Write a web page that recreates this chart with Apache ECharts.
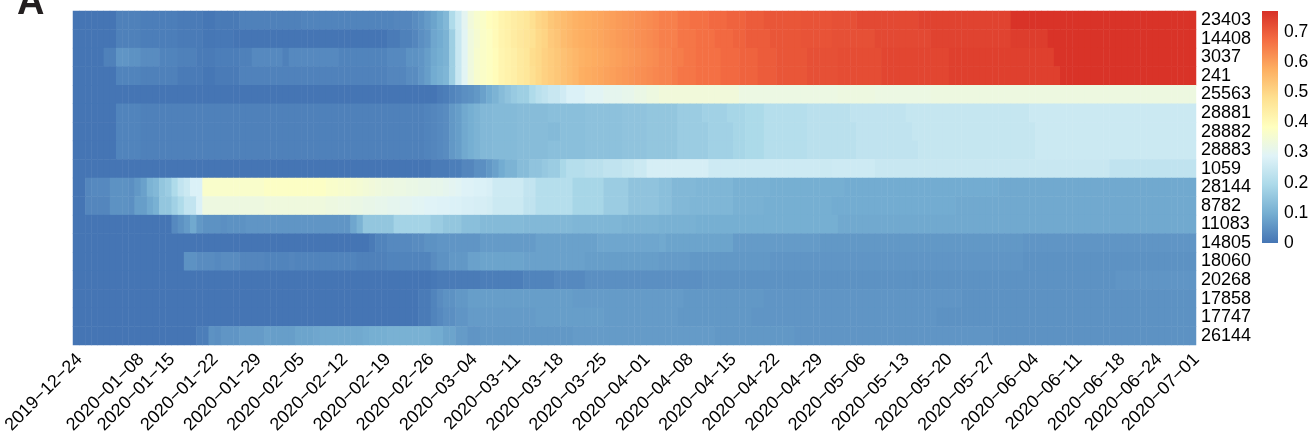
<!DOCTYPE html>
<html>
<head>
<meta charset="utf-8">
<script src="https://cdn.jsdelivr.net/npm/echarts@6/dist/echarts.min.js"></script>
<style>
html, body { margin: 0; padding: 0; background: #fff; }
#chart { width: 1310px; height: 438px; }
</style>
</head>
<body>
<div id="chart"></div>
<script>
// Genome positions, one heatmap row each, top to bottom
const positions = ['23403', '14408', '3037', '241', '25563', '28881', '28882', '28883', '1059',
  '28144', '8782', '11083', '14805', '18060', '20268', '17858', '17747', '26144'];

// Columns that carry a date label, and those labels
const tickColumns = [0, 10, 15, 22, 29, 36, 43, 50, 57, 64, 71, 78, 85, 92, 99, 106, 113, 120, 127,
  134, 141, 148, 155, 162, 169, 175, 181];
const tickLabels = ['2019−12−24', '2020−01−08', '2020−01−15', '2020−01−22', '2020−01−29', '2020−02−05',
  '2020−02−12', '2020−02−19', '2020−02−26', '2020−03−04', '2020−03−11', '2020−03−18', '2020−03−25',
  '2020−04−01', '2020−04−08', '2020−04−15', '2020−04−22', '2020−04−29', '2020−05−06', '2020−05−13',
  '2020−05−20', '2020−05−27', '2020−06−04', '2020−06−11', '2020−06−18', '2020−06−24', '2020−07−01'];

// Mutation frequency per column, in percent
const freq23403 = [
0,0,0,0,0,0,0,2,2,2,
2,1.5,1.5,1.5,1.5,1.5,1.5,1,1,1,
1,0.3,0.3,1,0.8,0.8,0.8,2,2,2,
2,2,2,2,2,2,2,2.5,2.5,2.5,
2.5,2.5,2.5,2.5,2.5,2.5,2.5,2.5,2.5,2.5,
2.5,2.5,3,3,3,4,5,6.5,8,10,
12,20,25,30,34,36,37,39,40,42,
43,44,45,46,48,50,51,53,54,55,
56,57,57.5,58,58.5,59,59.5,60,60.5,61,
61.5,62,62.5,63,63.5,64.5,64.5,64.5,66,66,
67,67,67,68,68,68,69,69,69,70,
70,70,71,71,71,71,71,71,71.5,71.5,
71.5,71.5,71.5,72,72,72,72,73,73,73,
73,73,73,73,73,73,73,74,74,74,
74,74,74,74,74,74,74,74,74,74,
74,74,76.5,76.5,76.5,76.5,76.5,76.5,76.5,76.5,
76.5,76.5,76.5,76.5,76.5,76.5,76.5,76.5,76.5,76.5,
76.5,76.5,76.5,76.5,76.5,76.5,76.5,76.5,76.5,76.5,
76.5,76.5];

const freq14408 = [
0,0,0,0,0,0,0,2,2,2,
2,1.5,1.5,1.5,1.5,1.5,1.5,1,1,1,
1,0.3,0.3,0.5,0.5,0.5,0,0,0,0,
0,0,0,0,0,0,0,0,0,0,
0,0,0,0,0,0,0,0,0,0,
0,1,1,2,2,3,4.5,5.5,8.5,9.5,
11,17,24.5,29.5,33.5,35.5,37,38,40,42,
43,44.5,45.5,46.5,47.5,49.5,50.5,52.5,53.5,55,
56,57,57.5,58,58.5,59,59.5,60,60.5,61,
61.5,62,62.5,63,63.5,64.5,64.5,64.5,66,66,
66,67,67,67,68,68,68,69,69,70,
70,70,70,71,71,71,71,71,71.5,71.5,
71.5,71.5,71.5,72,72,72,72,72,72,72,
73,73,73,73,73,73,73,73,73,74,
74,74,74,74,74,74,74,74,74,74,
74,74,75,75,75,75,75,75,76.5,76.5,
76.5,76.5,76.5,76.5,76.5,76.5,76.5,76.5,76.5,76.5,
76.5,76.5,76.5,76.5,76.5,76.5,76.5,76.5,76.5,76.5,
76.5,76.5];

const freq3037 = [
0,0,0,0,0,2,2,5.5,5.5,5,
5,4,4,4,2.5,2.5,2.5,2,2,2,
1,1,1,1.5,1.5,1.5,1.5,2,2,3.5,
3.5,3.5,3.5,3.5,2,3.5,3.5,3.5,3.5,3.5,
3.5,3.5,3.5,2.5,2.5,2.5,2.5,2.5,2.5,2.5,
2.5,3.5,3.5,3.5,5,5,5.5,7,9,10,
11,17,24.5,29.5,33.5,36,37,38,39.5,41.5,
42.5,43.5,45,46,48.5,49.5,51,52,53,54,
55,56,57,57.5,58,58.5,59,59.5,60,60.5,
61,61.5,62,62.5,63,64,64,65,65,66,
66,67,67,67,67,68,68,68,69,69,
69,70,70,70,71,71,71,71,71,72,
72,72,72,72,72.5,72.5,72.5,72.5,72.5,72.5,
72.5,73.5,73.5,73.5,73.5,73.5,73.5,73.5,73.5,73.5,
73.5,73.5,74.5,74.5,74.5,74.5,74.5,74.5,74.5,74.5,
74.5,74.5,74.5,74.5,74.5,74.5,74.5,74.5,74.5,76.5,
76.5,76.5,76.5,76.5,76.5,76.5,76.5,76.5,76.5,76.5,
76.5,76.5,76.5,76.5,76.5,76.5,76.5,76.5,76.5,76.5,
76.5,76.5];

const freq241 = [
0,0,0,0,0,0,0,2.5,2.5,2.5,
2.5,2,2,2,2,2,2,1,1,1,
1,0.3,0.3,1,1,1,1,2.3,2.3,2.3,
2.3,2.3,2.3,2.3,2.3,2.3,2.3,2.3,2.3,2.3,
2.3,2.3,2.3,2.3,2.3,2.3,2.3,2.3,2.3,2.3,
2.3,3,3,3,4,4,5.5,7,9.5,10.5,
11.5,17,24.5,29.5,33.5,36,37,38,39.5,41.5,
42.5,43.5,45,46,48,49.5,51,52,53,54,
55,56,57.5,58,58.5,59,59.5,60,60.5,61,
61.5,62,62.5,63,63.5,64,64,65,66,66,
66,67,67,67,67,68,68,68,69,69,
69,70,70,70,71,71,71,71,71,72,
72,72,72,72,72.5,72.5,72.5,72.5,72.5,72.5,
72.5,73.5,73.5,73.5,73.5,73.5,73.5,73.5,73.5,73.5,
73.5,73.5,74.5,74.5,74.5,74.5,74.5,74.5,74.5,74.5,
74.5,74.5,74.5,74.5,74.5,74.5,74.5,74.5,74.5,74.5,
76.5,76.5,76.5,76.5,76.5,76.5,76.5,76.5,76.5,76.5,
76.5,76.5,76.5,76.5,76.5,76.5,76.5,76.5,76.5,76.5,
76.5,76.5];

const freq25563 = [
0,0,0,0,0,0,0,0,0,0,
0,0,0,0,0,0,0,0,0,0,
0,0,0,0,0,0,0,0,0,0,
0,0,0,0,0,0,0,0,0,0,
0,0,0,0,0,0,0,0,0,0,
0,0,0,0,0,0,0,0,0,1,
1.5,2.5,3.5,4.5,5,6,7.5,9.5,11,13,
14.5,16,17,17,20,22,23,24.5,24.5,26,
28,28,28,29.5,29.5,29.5,30.5,30.5,30.5,31,
31,32,32,33,33,34,34,34,34,34,
34,34,34,34,34,34,34,34,32.5,32.5,
32.5,32.5,32.5,32.5,32.5,32.5,32.5,32.5,32.5,32.5,
32.5,32.5,32.5,32.5,33,33,33,33,33,33,
32.5,32.5,32.5,32.5,32.5,32.5,32.5,32.5,32.5,33,
33,33,33,33,33,33,33,33,33,33,
33,33,33,33,33,33,33,33,33,33,
33,33,33,33,33,33,33,33,33,33,
33,33,33,33,33,33,33,33,33,33,
33,33];

const freq28881 = [
0,0,0,0,0,0,0,2.5,2.5,2.5,
2.5,2,2,2,2,2,2,2,2,2,
2,2,2,2,2,2,2,2,2,2,
2,2,2,2,2,2,2,2,2,2,
2,2,2,2,2,2,2,2,2,2,
2,2,2,2,2,2,2,2.5,3,3.5,
4,6,7,9,10,11,12,12,12.5,12.5,
12.5,12.5,13,13,13,13,13,13.5,13.5,13.5,
13.5,13.5,13.5,14,14,14,14,14,14,14.5,
14.5,14.5,14.5,15,15,15,15,15,16.5,16.5,
16.5,16.5,17.5,17.5,17.5,17.5,18.5,18.5,18.5,19.5,
19.5,19.5,21,21,21,21,21,21,21,22,
22,22,22,22,22,22,23,23,23,23,
23,23,23,23,23,24,24,24,24,24,
24,24,24,24,24,24,24,24,24,24,
24,24,24,24,24,25,25,25,25,25,
25,25,25,25,25,25,25,25,25,25,
25,25,25,25,25,25,25,25,25,25,
25,25];

const freq28882 = [
0,0,0,0,0,0,0,2.5,2.5,2.5,
2.5,2,2,2,2,2,2,2,2,2,
2,2,2,2,2,2,2,2,2,2,
2,2,2,2,2,2,2,2,2,2,
2,2,2,2,2,2,2,2,2,2,
2,2,2,2,2,2,2,2.5,3,3.5,
4,6,7,9,10,11,12,12,12.5,12.5,
12.5,12.5,13,13,13,13,13,12.5,12.5,13.5,
13.5,13.5,13.5,14,14,14,14,14,14,14.5,
14.5,14.5,14.5,15,15,15,15,15,16.5,16.5,
16.5,16.5,16.5,17.5,17.5,17.5,17.5,18.5,18.5,19.5,
19.5,19.5,21,21,21,21,21,21,21,22,
22,22,22,22,22,22,22,23,23,23,
23,23,23,23,23,23,24,24,24,24,
24,24,24,24,24,24,24,24,24,24,
24,24,24,24,24,24,25,25,25,25,
25,25,25,25,25,25,25,25,25,25,
25,25,25,25,25,25,25,25,25,25,
25,25];

const freq28883 = [
0,0,0,0,0,0,0,2.5,2.5,2.5,
2.5,2,2,2,2,2,2,2,2,2,
2,2,2,2,2,2,2,2,2,2,
2,2,2,2,2,2,2,2,2,2,
2,2,2,2,2,2,2,2,2,2,
2,2,2,2,2,2,2,2.5,3,3.5,
4,6,7,9,10,11,12,12,12.5,12.5,
12.5,12.5,13,13,13,13,13,13.5,13.5,13.5,
13.5,13.5,13.5,14,14,14,14,14,14,14.5,
14.5,14.5,14.5,15,15,15,15,15,16.5,16.5,
16.5,16.5,16.5,17.5,17.5,17.5,17.5,18.5,18.5,19.5,
19.5,19.5,21,21,21,21,21,21,21,22,
22,22,22,22,22,22,22,23,23,23,
23,23,23,23,23,23,23,24,24,24,
24,24,24,24,24,24,24,24,24,24,
24,24,24,24,24,24,25,25,25,25,
25,25,25,25,25,25,25,25,25,25,
25,25,25,25,25,25,25,25,25,25,
25,25];

const freq1059 = [
0,0,0,0,0,0,0,0,0,0,
0,0,0,0,0,0,0,0,0,0,
0,0,0,0,0,0,0,0,0,0,
0,0,0,0,0,0,0,0,0,0,
0,0,0,0,0,0,0,0,0,0,
0,0,0,0,0,0,0,0,1,1,
1,1.5,1.5,3,3,4.5,4.5,6,7.5,9.5,
11,11,13,13,14.5,14.5,15.5,16.5,16.5,19,
21,21,21,22,22,22,23,23,23,24,
24,25,25,27,27,27,27,27,27,27,
27,27,27,25.5,25.5,25.5,25.5,25.5,25.5,25.5,
25.5,25.5,25.5,25.5,25.5,25.5,25.5,25.5,25.5,25.5,
25.5,25,25,25.5,25.5,25.5,25.5,25.5,25.5,25.5,
24.5,24.5,24.5,24.5,24.5,24.5,24.5,24.5,24.5,24.5,
24.5,24.5,24.5,24.5,24.5,24.5,24.5,24.5,24.5,24.5,
24.5,24.5,24.5,24.5,24.5,24.5,24.5,24.5,24.5,24.5,
24.5,24.5,24.5,24.5,24.5,24.5,24.5,24.5,23,23,
23,23,23,23,23,23,23,23,23,23,
23,23];

const freq28144 = [
0,0,3,3.5,3.5,3.5,5,5,5,4.5,
6,7.5,11,12,15,16.5,20,23.5,25,28,
28,36.5,36.5,36.5,36.5,36.5,36.5,36.5,36.5,36.5,
36.5,37.5,37.5,37.5,37.5,37.5,37.5,37.5,37.5,37.5,
37.5,36.5,36.5,36,36,35.5,35,34.5,34,33.5,
33,33,32.5,32.5,32,32,31.5,31.5,31,31,
30.5,30,29.5,28.5,28.5,28,28,27.5,25.5,25.5,
25.5,25.5,25.5,23.5,23.5,21,21,21,21,21,
21,18.5,18.5,18.5,18.5,18.5,16.5,16.5,16.5,16.5,
14.5,14.5,14.5,14.5,14.5,13.5,13.5,12,12,12,
12,11.5,11.5,11.5,11.5,11.5,11.5,10.5,10.5,10.5,
10.5,10.5,10.5,10,10,10,10,10,10,10,
10,10,10,10,10,9.5,9.5,9.5,9.5,9.5,
9.5,9.5,9.5,9.5,9.5,9.5,9.5,9.5,9.5,9.5,
9.5,9.5,9.5,9.5,9.5,9.5,9.5,9.5,9.5,9.5,
9,9,9,9,9,9,9,9,9,9,
9,9,9,9,9,9,9,9,9,9,
9,9,9,9,9,9,9,9,9,9,
9,9];

const freq8782 = [
0,0,3,3,3,3,5,5,5,4.5,
7,7,9,10.5,15,15,17.5,20,23.5,23.5,
28,33,33,33,33,33,33,33,33,33,
33,33.5,33.5,33.5,33.5,33.5,33.5,33.5,33.5,33.5,
33.5,33,33,32.5,32.5,32,32,31.5,31.5,31,
31,30.5,30.5,30,30,29.5,29.5,29,29,28.5,
28.5,28,28,27.5,27.5,27,27,26.5,25,25,
25,25,25,23,23,21,21,21,21,21,
21,18.5,18.5,18.5,18.5,18.5,16.5,16.5,16.5,16.5,
14.5,14.5,14.5,14.5,14.5,13.5,13.5,12,12,12,
11.5,11.5,11.5,11.5,11.5,11.5,11.5,10.5,10.5,10.5,
10.5,10.5,10,10,10,10,10,10,10,10,
10,10,10,9.5,9.5,9.5,9.5,9.5,9.5,9.5,
9.5,9.5,9.5,9.5,9.5,9.5,9.5,9.5,9.5,9.5,
9.5,9.5,9.5,9,9,9,9,9,9,9,
9,9,9,9,9,9,9,9,9,9,
9,9,9,9,9,9,9,9,9,9,
9,9,9,9,9,9,9,9,9,9,
9,9];

const freq11083 = [
0,0,0,0,0,0,0,0,0,0,
0,0,0,0,0,0,3.5,5,6.5,9,
6,5,5,5,4.5,5,5,5,5.5,5.5,
5.5,5.5,5.5,5.5,5.5,5.5,5.5,5.5,5.5,5.5,
5.5,5.5,5.5,5.5,5.5,8.5,11,15,15,15,
15,15,18,18,18,18,18,18,16.5,16.5,
15,15,15,13.5,13.5,13.5,12.5,12.5,12.5,12.5,
12.5,12.5,12.5,12,12,12,12,12,12,12,
12,11.5,11.5,11.5,11.5,11.5,11.5,11.5,11.5,11,
11,11,11,11,11,10.5,10.5,10.5,10.5,10.5,
10.5,10,10,10,10,10,10,10,10,10,
10,10,10,10,10,10,10,10,10,10,
10,10,10,10,9,9,9,9,9,9,
9,9,9,9,9,9,9,9,9,9,
9,9,9,9,9,9,9,9,9,9,
9,9,9,9,9,9,9,9,9,9,
9,9,9,9,9,9,9,9,9,9,
9,9,9,9,9,9,9,9,9,9,
9,9];

const freq14805 = [
0,0,0,0,0,0,0,0,0,0,
0,0,0,0,0,0,0,0,0,0,
0,0,0,0,0,0,0,0,0,0,
0,0,0,0,0,0,0,0,0,0,
0,0,0,0,0,0,0,0,1,2.5,
2.5,3.5,3.5,3.5,3.5,4,4,5,5,5.5,
5.5,5.5,5.5,5.5,5.5,5.5,6.5,6.5,6.5,6.5,
6.5,6.5,6.5,6.5,6.5,7.5,7.5,7.5,7.5,7.5,
7.5,7.5,7.5,7.5,7.5,8.5,8.5,8.5,8.5,8.5,
8.5,8.5,8.5,8.5,8.5,9,8,8,8,8,
8,8,8,8,8,8,8,6.5,6.5,6.5,
6.5,6.5,6.5,6.5,6.5,6.5,6.5,6.5,6.5,6.5,
6.5,6,6,6,6,6,6,6,6,6,
6,6,6,6,6,6,6,6,6,6,
6,6,6,6,6,6,6,6,6,6,
6,6,6,6,5.5,5.5,5.5,5.5,5.5,5.5,
5.5,5.5,5.5,5.5,5.5,5.5,5.5,5.5,5.5,5.5,
5.5,5.5,5.5,5.5,5.5,5.5,5.5,5.5,5.5,5.5,
5.5,5.5];

const freq18060 = [
0,0,0,0,0,0,0,0,0,0,
0,0,0,0,0,0,0,0,5,5,
4,4,4,3.5,4,4,4,3,3,3,
3,2.5,2.5,2.5,2.5,3,2.5,2.5,2.5,2.5,
2.5,2.5,2.5,2.5,2.5,2.5,2,2,2,2,
2,2.5,2.5,2.5,2.5,2.5,2.5,2.5,4,5,
5,6,6,6,7.5,7.5,8,8,8,8,
8,8,8,7.5,7.5,7.5,7.5,7.5,7.5,7.5,
7.5,7.5,7.5,7,7,7,7,7,7,7,
7,7,7,7,7,6.5,6.5,6.5,6.5,6.5,
6,6,6,6,6,6,6,6,6,6,
6,6,6,5.5,5.5,5.5,5.5,5.5,5.5,5.5,
5.5,5.5,5.5,5.5,5.5,5.5,5.5,5.5,5.5,5.5,
5.5,5.5,5.5,5.5,5.5,5.5,5.5,5.5,5.5,5.5,
5.5,5.5,5.5,5.5,5.5,5.5,5.5,5.5,5.5,5.5,
5.5,5.5,5.5,5.5,5,5,5,5,5,5,
5,5,5,5,5,5,5,5,5,5,
5,5,5,5,5,5,5,5,5,5,
5,5];

const freq20268 = [
0,0,0,0,0,0,0,0,0,0,
0,0,0,0,0,0,0,0,0,0,
0,0,0,0,0,0,0,0,0,0,
0,0,0,0,0,0,0,0,0,0,
0,0,0,0,0,0,0,0,0,0,
0,0,0,0,0,0,0,0,0.5,1,
1,1,1,1,1,1,1.5,1.5,1.5,1.5,
1.5,1.5,1.5,2.5,2.5,2.5,2.5,2.5,3.5,3.5,
3.5,3.5,3.5,4.5,4.5,4.5,4.5,4.5,4.5,4.5,
4.5,4.5,4.5,4.5,4.5,4.5,4.5,4.5,4.5,4.5,
4.5,4.5,5,5,5,5,5,5,5,5,
5,5,5,5,5,5,5,5,5,5,
5,5,5,5,5,5,5,5,5,5,
5,5,5,5,5,5,4.8,5,5,5,
5,5,5,5,5,5,5,5,5,5,
5,5,5,5,5,5,5,5,5,5,
5,5,5,5,5,5,5,5,5,5.5,
5.5,5.5,5.5,5.5,5.5,5.5,5.5,5.5,5.5,5.5,
5.5,5.5];

const freq17858 = [
0,0,0,0,0,0,0,0,0,0,
0,0,0,0,0,0,0,0,0,0,
0,0,0,0,0,0,0,0,0,0,
0,0,0,0,0,0,0,0,0,0,
0,0,0,0,0,0,0,0,0,0,
0,0,0,0,0,0,1,1,2.5,4,
5,5,6,6,7,7,7,7,7,7,
7,7,7,7,7,7,7,7,7,7,
7,6.5,6.5,6.5,6.5,6.5,6.5,6.5,6.5,6.5,
6.5,6.5,6.5,6.5,6.5,6.5,6.5,6.5,6.5,6,
6,6,6,6,6,6,6,6,6,6,
6,6,5.5,5.5,5.5,5.5,5.5,5.5,5.5,5.5,
5.5,5.5,5.5,5.5,5.5,5.5,5.5,5.5,5.5,5.5,
5.5,5.5,5.5,5.5,5.5,5.5,5.5,5.5,5.5,5.5,
5.5,5.5,5.5,5.5,5,5,5,5,5,5,
5,5,5,5,5,5,5,5,5,5,
5,5,5,5,5,5,5,5,5,5,
5,5,5,5,5,5,5,5,5,5,
5,5];

const freq17747 = [
0,0,0,0,0,0,0,0,0,0,
0,0,0,0,0,0,0,0,0,0,
0,0,0,0,0,0,0,0,0,0,
0,0,0,0,0,0,0,0,0,0,
0,0,0,0,0,0,0,0,0,0,
0,0,0,0,0,0,1,1,2.5,3.5,
4.5,4.5,5.5,5.5,6.5,6.5,6.5,6.5,6.5,6.5,
6.5,6.5,6.5,6.5,6.5,7,7,7,7,7,
7,7,7,7,7,7,6.5,6.5,6.5,6.5,
6.5,6.5,6.5,6.5,6.5,6.5,6.5,6.5,6,6,
6,6,6,6,6,6,6,6,6,6,
5.5,5.5,5.5,5.5,5.5,5.5,5.5,5.5,5.5,5.5,
5.5,5.5,5.5,5.5,5.5,5.5,5.5,5.5,5.5,5.5,
5.5,5.5,5.5,5.5,5.5,5.5,5.5,5.5,5.5,5.5,
5,5,5,5,5,5,5,5,5,5,
5,5,5,5,5,5,5,5,5,5,
5,5,5,5,5,5,5,5,5,5,
5,5,5,5,5,5,5,5,5,5,
5,5];

const freq26144 = [
0,0,0,0,0,0,0,0,0,0,
0,0,0,0,0,0,0,0,0,0,
1.5,1.5,5,4.5,5.5,5.5,5.5,6.5,6.5,6.5,
6.5,7.5,7,7,7,7,8,8,8,8.5,
9,9,9,9,9,9,9,9.5,10,10,
10,10.5,10.5,10.5,10.5,10.5,10.5,10.5,9.5,9.5,
8,8,6.5,6.5,5.5,5.5,6,6,6,6,
6,6,6,6,6,6,6,6,6,6,
6,6.5,6.5,6.5,6.5,6.5,6.5,6.5,6.5,6.5,
6.5,6.5,6.5,6.5,6.5,6.5,6.5,6.5,6.5,6.5,
6.5,6.5,6.5,6.5,6,6,6,6,6,6,
6,6,6,6,6,6,6,5.5,5.5,5.5,
5.5,5.5,5.5,5.5,5.5,5.5,5.5,5.5,5.5,5.5,
5.5,5.5,5.5,5.5,5.5,5.5,5.5,5.5,5.5,5.5,
5.5,5.5,5.5,5.5,5.5,5.5,5.5,5.5,5.5,5,
5,5,5,5,5,5,5,5,5,5,
5,5,5,5,5,5,5,5,5,5,
5,5,5,5,5,5,5,5,5,5,
5,5];

// Rows in the same order as positions
const rows = [freq23403, freq14408, freq3037, freq241, freq25563, freq28881, freq28882, freq28883,
  freq1059, freq28144, freq8782, freq11083, freq14805, freq18060, freq20268, freq17858, freq17747,
  freq26144];

// Blue-yellow-red ramp from 0 up to the top of the colour key
const colorScale = ['#4575b4', '#74add1', '#abd9e9', '#e0f3f8', '#ffffbf', '#fee090', '#fdae61',
  '#f46d43', '#d73027'];
const scaleMax = 0.77;

const FONT = '"Liberation Sans", Arial, Helvetica, sans-serif';

const nCols = freq23403.length;
const columns = Array.from({ length: nCols }, (_, i) => String(i));
const labelAt = {};
tickColumns.forEach((c, k) => { labelAt[c] = tickLabels[k]; });

const cells = [];
rows.forEach((r, y) => r.forEach((v, x) => cells.push([x, y, v / 100])));

const chart = echarts.init(document.getElementById('chart'), null, { renderer: 'canvas' });
chart.setOption({
  animation: false,
  backgroundColor: '#fff',
  grid: [
    { left: 73, top: 11, width: 1123, height: 334, outerBoundsMode: 'none', containLabel: false },
    { left: 1262, top: 11, width: 16, height: 232, outerBoundsMode: 'none', containLabel: false }
  ],
  xAxis: [
    {
      type: 'category', data: columns, gridIndex: 0,
      axisLine: { show: false }, axisTick: { show: false }, splitLine: { show: false },
      axisLabel: {
        interval: (i) => labelAt[i] !== undefined,
        formatter: (v, i) => labelAt[i] || '',
        rotate: 45, fontSize: 18, fontFamily: FONT, color: '#000', margin: 8,
        verticalAlign: 'top', lineHeight: 10
      }
    },
    { type: 'value', gridIndex: 1, show: false }
  ],
  yAxis: [
    {
      type: 'category', data: positions, inverse: true, position: 'right', gridIndex: 0,
      axisLine: { show: false }, axisTick: { show: false }, splitLine: { show: false },
      axisLabel: { interval: 0, fontSize: 18, fontFamily: FONT, color: '#000', margin: 5 }
    },
    {
      type: 'value', gridIndex: 1, min: 0, max: scaleMax, interval: 0.1, position: 'right',
      axisLine: { show: false }, axisTick: { show: false }, splitLine: { show: false },
      axisLabel: {
        fontSize: 17.5, fontFamily: FONT, color: '#000', margin: 6, showMaxLabel: false,
        formatter: (v) => String(+v.toFixed(1))
      }
    }
  ],
  visualMap: {
    type: 'continuous', show: false, min: 0, max: scaleMax, dimension: 2, seriesIndex: 0,
    inRange: { color: colorScale }
  },
  series: [{
    type: 'heatmap', xAxisIndex: 0, yAxisIndex: 0, data: cells, progressive: 0,
    emphasis: { disabled: true }, itemStyle: { borderWidth: 0 }
  }],
  graphic: [
    {
      type: 'rect', silent: true,
      shape: { x: 1262, y: 11, width: 16, height: 232 },
      style: {
        fill: new echarts.graphic.LinearGradient(0, 1, 0, 0,
          colorScale.map((c, i) => ({ offset: i / (colorScale.length - 1), color: c })))
      }
    },
    {
      type: 'text', x: 17, y: 4, silent: true,
      style: { text: 'A', fontSize: 38, fontWeight: 'bold', fontFamily: FONT, fill: '#231f20', verticalAlign: 'middle' }
    }
  ]
});

// Every row must have one value per column
const bad = rows.map((r, k) => (r.length === nCols ? null : positions[k] + ':' + r.length)).filter(Boolean);
if (bad.length) setTimeout(() => { throw new Error('row length mismatch ' + bad.join(', ')); }, 0);
</script>
</body>
</html>
